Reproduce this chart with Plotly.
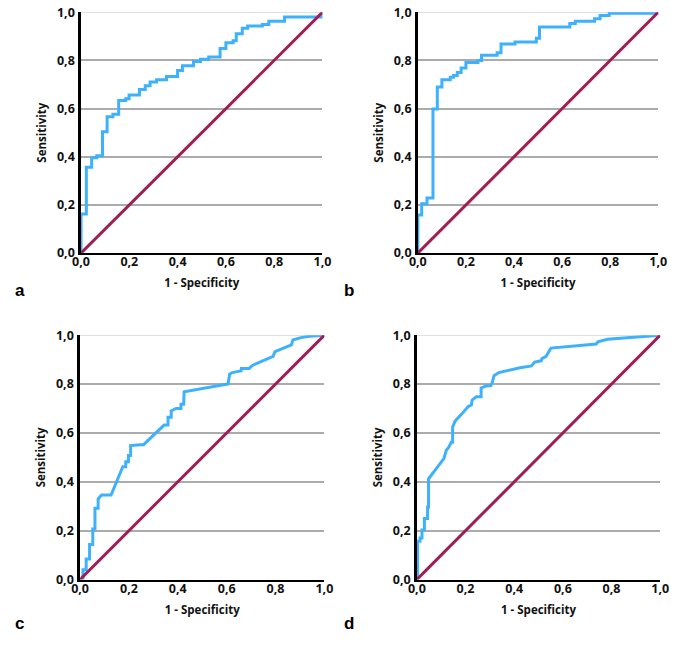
import plotly.graph_objects as go

# ---- data ----
a_fpr = [0, 0, 0.022, 0.044, 0.065, 0.089, 0.108, 0.132, 0.156, 0.185, 0.199, 0.242, 0.266, 0.286, 0.313,
         0.354, 0.40, 0.42, 0.466, 0.495, 0.529, 0.576, 0.60, 0.63, 0.643, 0.668, 0.69, 0.751, 0.778, 0.843, 0.985, 1.0]
a_tpr = [0, 0.162, 0.356, 0.396, 0.404, 0.504, 0.566, 0.576, 0.633, 0.641, 0.656, 0.679, 0.695, 0.71, 0.72,
         0.733, 0.758, 0.778, 0.795, 0.805, 0.814, 0.849, 0.873, 0.881, 0.911, 0.933, 0.943, 0.949, 0.962, 0.98, 0.98, 1.0]

b_fpr = [0, 0, 0.016, 0.038, 0.063, 0.081, 0.10, 0.135, 0.148, 0.164, 0.18, 0.20, 0.25, 0.265, 0.33, 0.346,
         0.404, 0.493, 0.506, 0.632, 0.655, 0.735, 0.758, 0.796, 1.0]
b_tpr = [0, 0.158, 0.205, 0.229, 0.598, 0.69, 0.72, 0.73, 0.737, 0.75, 0.768, 0.791, 0.80, 0.821, 0.832, 0.868,
         0.876, 0.892, 0.939, 0.953, 0.962, 0.973, 0.986, 0.996, 1.0]

c_fpr = [0, 0.012, 0.012, 0.025, 0.025, 0.039, 0.039, 0.052, 0.052, 0.061, 0.061, 0.074, 0.074, 0.088, 0.127,
         0.171, 0.175, 0.187, 0.187, 0.198, 0.198, 0.207, 0.207, 0.247, 0.26, 0.344, 0.36, 0.36, 0.373, 0.373,
         0.393, 0.413, 0.413, 0.424, 0.426, 0.606, 0.612, 0.623, 0.659, 0.66, 0.692, 0.705, 0.79, 0.798, 0.865,
         0.871, 0.904, 0.94, 1.0]
c_tpr = [0, 0.0, 0.04, 0.04, 0.084, 0.084, 0.143, 0.143, 0.207, 0.207, 0.292, 0.292, 0.33, 0.346, 0.346,
         0.451, 0.462, 0.462, 0.482, 0.482, 0.508, 0.508, 0.548, 0.552, 0.552, 0.632, 0.632, 0.664, 0.664, 0.69,
         0.70, 0.70, 0.717, 0.717, 0.768, 0.80, 0.84, 0.847, 0.854, 0.864, 0.864, 0.876, 0.913, 0.933, 0.96,
         0.98, 0.99, 0.996, 1.0]

d_fpr = [0, 0.003, 0.003, 0.013, 0.013, 0.021, 0.021, 0.031, 0.031, 0.044, 0.044, 0.048, 0.048, 0.111, 0.121,
         0.131, 0.141, 0.147, 0.147, 0.157, 0.184, 0.211, 0.224, 0.227, 0.244, 0.264, 0.264, 0.284, 0.304, 0.31,
         0.317, 0.337, 0.424, 0.471, 0.484, 0.511, 0.514, 0.531, 0.541, 0.551, 0.737, 0.744, 0.784, 0.871, 0.937, 1.0]
d_tpr = [0, 0.003, 0.157, 0.157, 0.17, 0.17, 0.203, 0.203, 0.25, 0.25, 0.296, 0.296, 0.412, 0.495, 0.529,
         0.542, 0.562, 0.562, 0.624, 0.648, 0.677, 0.708, 0.714, 0.734, 0.748, 0.748, 0.784, 0.792, 0.794, 0.807,
         0.834, 0.847, 0.867, 0.874, 0.89, 0.895, 0.904, 0.913, 0.93, 0.947, 0.964, 0.973, 0.983, 0.991, 0.996, 1.0]

ref_line = [0, 1]
tick_vals = [0, 0.2, 0.4, 0.6, 0.8, 1.0]
panel_labels = ["a", "b", "c", "d"]
x_title = "1 - Specificity"
y_title = "Sensitivity"

BLUE = "#3DB1FC"
MAROON = "#A11D54"
W, H = 677, 645

# pixel boxes of the four plot areas: (left, right, top, bottom)
boxes = [(74, 322, 3.3, 250.7), (420, 667, 3.3, 250.7), (73, 324, 335, 586), (419, 669, 335, 586)]
curves = [(a_fpr, a_tpr, "hv"), (b_fpr, b_tpr, "hv"), (c_fpr, c_tpr, "linear"), (d_fpr, d_tpr, "linear")]
label_pos = [(4, 301), (342, 301), (4, 643), (342, 643)]

fig = go.Figure()
FONT = "Open Sans"

for i, ((l, r, t, b), (xs, ys, shape)) in enumerate(zip(boxes, curves)):
    n = "" if i == 0 else str(i + 1)
    xa, ya = "x" + n, "y" + n
    fig.add_trace(go.Scatter(x=xs, y=ys, mode="lines", line=dict(color=BLUE, width=3, shape=shape),
                             xaxis=xa, yaxis=ya, showlegend=False, hoverinfo="skip"))
    fig.add_trace(go.Scatter(x=ref_line, y=ref_line, mode="lines", line=dict(color=MAROON, width=3),
                             xaxis=xa, yaxis=ya, showlegend=False, hoverinfo="skip"))
    common = dict(range=[0, 1], tickvals=tick_vals, tickformat=".1f", showline=True, linecolor="black",
                  zeroline=False, ticks="", tickfont=dict(family=FONT, size=12.5, color="#111", weight="bold"),
                  fixedrange=True)
    fig.layout["xaxis" + n] = dict(common, domain=[l / W, r / W], anchor=ya, showgrid=False, linewidth=2,
                                   ticklabelstandoff=-4,
                                   title=dict(text=x_title, standoff=10,
                                              font=dict(family=FONT, size=11.5, color="#111", weight="bold")))
    fig.layout["yaxis" + n] = dict(common, domain=[1 - b / H, 1 - t / H], anchor=xa, showgrid=True,
                                   gridcolor="#ABABAB", gridwidth=1.5, linewidth=2.5, ticklabelstandoff=1,
                                   title=dict(text=y_title, standoff=8,
                                              font=dict(family=FONT, size=11.5, color="#111", weight="bold")))
    # light top border line at 1,0
    fig.add_shape(type="line", xref=xa + " domain", yref=ya, x0=0, x1=1, y0=1, y1=1,
                  line=dict(color="#D6D6D6", width=1.5), layer="below")
    lx, ly = label_pos[i]
    fig.add_annotation(text=panel_labels[i], xref="paper", yref="paper", x=lx / W, y=1 - ly / H,
                       xanchor="left", yanchor="bottom", showarrow=False,
                       font=dict(family="Liberation Sans", size=17, color="black", weight="bold"))

fig.update_layout(width=W, height=H, margin=dict(l=0, r=0, t=0, b=0), paper_bgcolor="white",
                  plot_bgcolor="white", separators=",.")
fig.write_html("out.html")
